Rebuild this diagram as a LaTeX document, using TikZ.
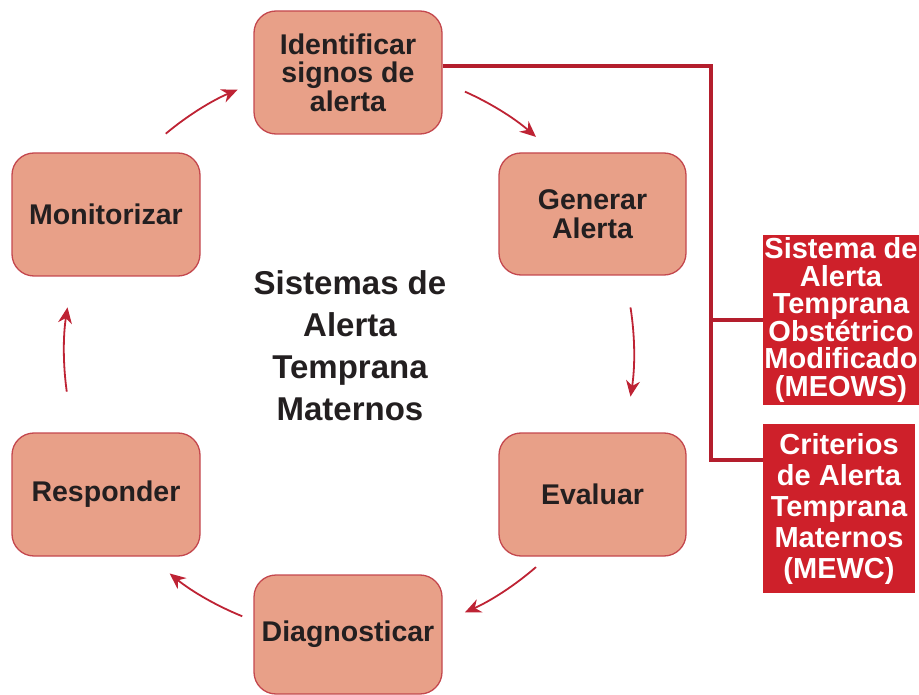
\documentclass[tikz,border=0pt]{standalone}
\usepackage{fontspec}
\setmainfont{Liberation Sans}
\usetikzlibrary{arrows.meta,calc}
\definecolor{boxfill}{RGB}{232,160,136}
\definecolor{boxline}{RGB}{196,72,78}
\definecolor{redbox}{RGB}{206,32,42}
\definecolor{conn}{RGB}{180,30,45}
\definecolor{arrowc}{RGB}{190,35,52}
\definecolor{txt}{RGB}{35,31,32}
\tikzset{
  stepbox/.style={draw=boxline, line width=1.3pt, fill=boxfill, rounded corners=22pt,
    minimum width=188pt, minimum height=123pt, inner sep=0pt, align=center,
    text=txt, font=\fontsize{28.5}{28.5}\selectfont\bfseries},
  redbox/.style={fill=redbox, inner sep=0pt, align=center, text=white,
    font=\fontsize{29}{27.5}\selectfont\bfseries},
  connline/.style={draw=conn, line width=3.2pt},
  cyc/.style={draw=arrowc, line width=1.8pt, -{Stealth[length=16pt,width=14pt]}}
}
\begin{document}
\begin{tikzpicture}[x=1pt,y=-1pt]
\useasboundingbox (0,0) rectangle (919,695);
\node[stepbox] (ident) at (348,72.5) {Identificar\\signos de\\alerta};
\node[stepbox, minimum width=187pt, minimum height=122pt] (gen) at (592.5,214) {Generar\\Alerta};
\node[stepbox, minimum width=187pt] (eval) at (592.5,494.5) {Evaluar};
\node[stepbox, minimum height=119pt] (diag) at (348,634.5) {Diagnosticar};
\node[stepbox] (resp) at (106,494.5) {Responder};
\node[stepbox] (moni) at (106,214.5) {Monitorizar};
\node[align=center, text=txt, font=\fontsize{33}{42}\selectfont\bfseries] (title) at (350,346)
  {Sistemas de\\Alerta\\Temprana\\Maternos};
\node[redbox, minimum width=156pt, minimum height=170pt] (red1) at (841,320)
  {Sistema de\\Alerta\\Temprana\\Obstétrico\\Modificado\\(MEOWS)};
\node[redbox, minimum width=152pt, minimum height=169pt, font=\fontsize{29}{31}\selectfont\bfseries] (red2) at (839,508.5)
  {Criterios\\de Alerta\\Temprana\\Maternos\\(MEWC)};
% connectors to red boxes
\coordinate (jb) at (711,460);
\draw[connline] ([yshift=6.5pt]ident.east) -| (jb) -- (red2.west |- jb);
\draw[connline] (red1.west) -- (red1.west -| jb);
% cycle arrows
\coordinate (c) at (349,352);
\draw[cyc] ($(c)+(66:285pt)$) arc[start angle=66, end angle=49, radius=285pt];
\draw[cyc] ($(c)+(9:285pt)$) arc[start angle=9, end angle=-9, radius=285pt];
\draw[cyc] ($(c)+(-49:285pt)$) arc[start angle=-49, end angle=-66, radius=285pt];
\draw[cyc] ($(c)+(-112:285pt)$) arc[start angle=-112, end angle=-129, radius=285pt];
\draw[cyc] ($(c)+(188:285pt)$) arc[start angle=188, end angle=171, radius=285pt];
\draw[cyc] ($(c)+(130:285pt)$) arc[start angle=130, end angle=113, radius=285pt];
\end{tikzpicture}
\end{document}
